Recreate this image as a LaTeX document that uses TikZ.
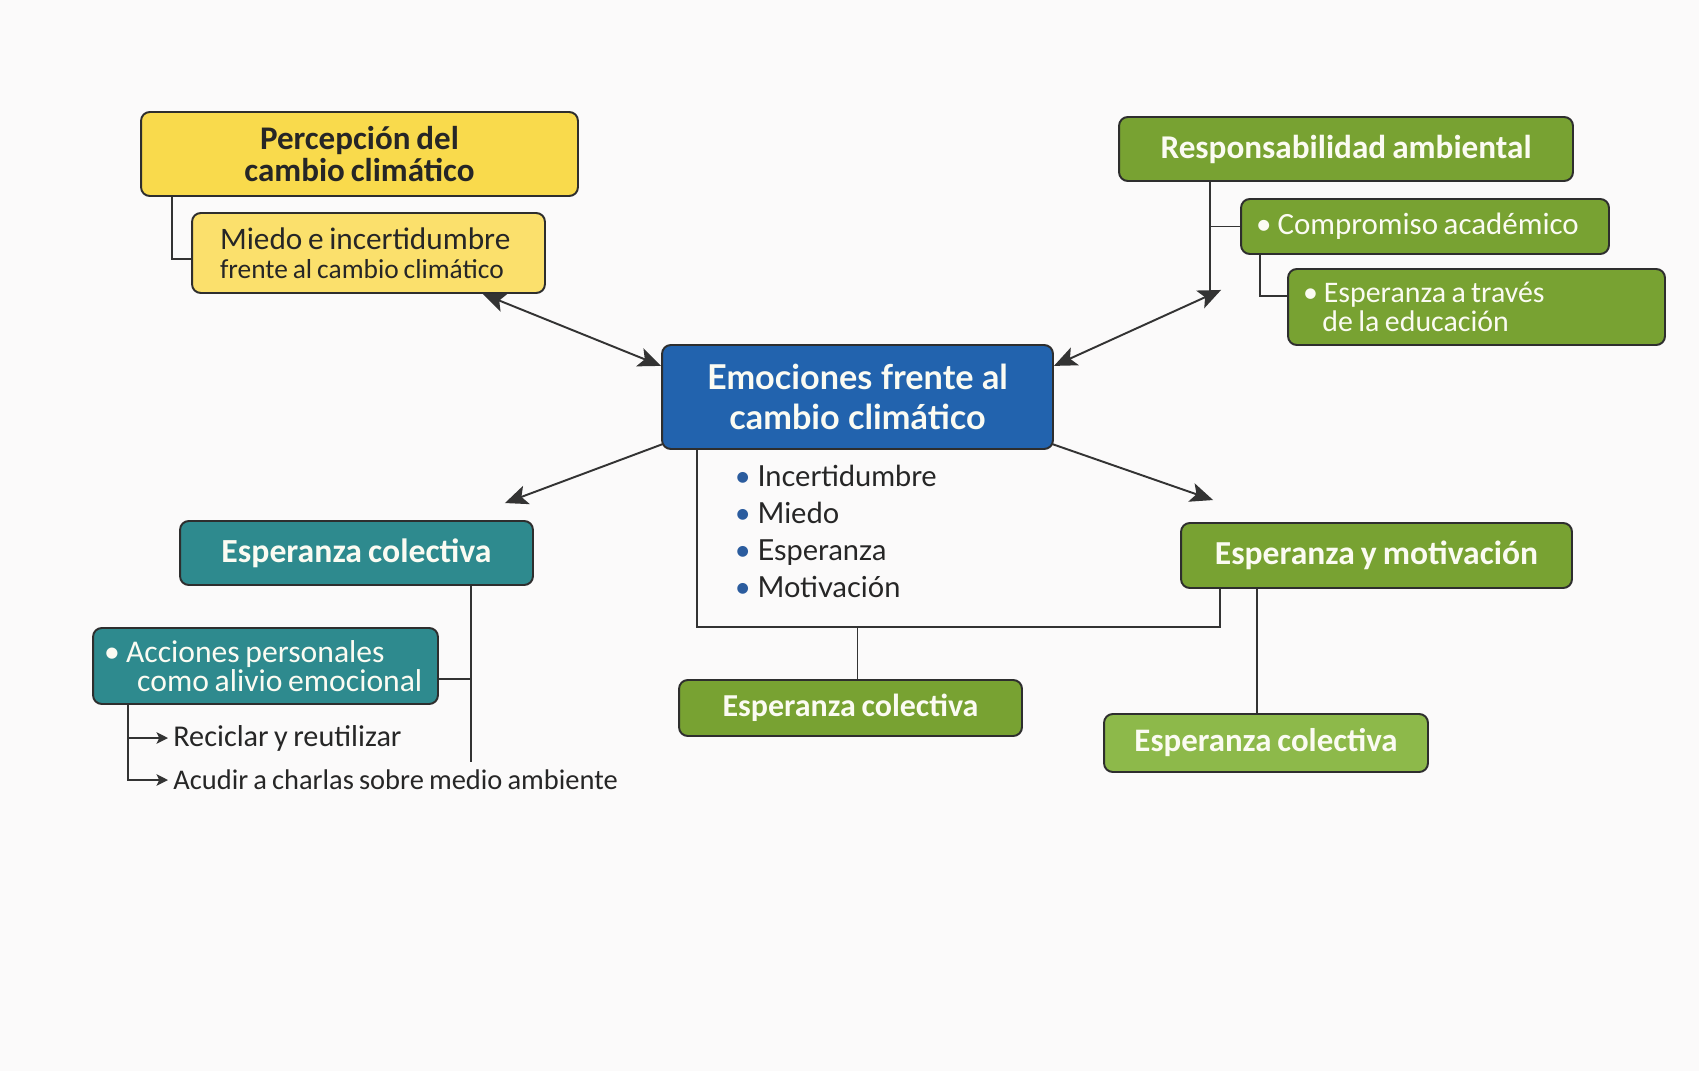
\documentclass[tikz,border=0pt]{standalone}
\usepackage{fontspec}
\setmainfont{Carlito}[WordSpace=0.8]
\newfontfamily\latofont{Lato}
\usepackage{tikz}
\usetikzlibrary{arrows.meta, calc}

\definecolor{fondo}{HTML}{FBFAFA}
\definecolor{borde}{HTML}{2E2E2E}
\definecolor{trazo}{HTML}{333333}
\definecolor{oscuro}{HTML}{262626}
\definecolor{blanco}{HTML}{FBFBF2}
\definecolor{amarillo}{HTML}{F9DA4C}
\definecolor{amarillo2}{HTML}{FBE06C}
\definecolor{azul}{HTML}{2263AE}
\definecolor{azulpunto}{HTML}{2B5C9E}
\definecolor{verde}{HTML}{78A232}
\definecolor{verdeclaro}{HTML}{8DB94A}
\definecolor{turquesa}{HTML}{2E8A8E}

\newcommand{\punto}{\textcolor{azulpunto}{\textbullet}\hspace{0.22em}}
\newcommand{\vineta}{\textbullet\hspace{0.2em}}

\begin{document}
\begin{tikzpicture}[x=0.02cm, y=-0.02cm]
        % Fondo.
        \fill[fondo] (0,0) rectangle (1699,1071);

        % Estilos.
        \tikzstyle{caja} = [draw=borde, line width=1.1pt, rounded corners=5pt, inner sep=0pt, text=blanco]
        \tikzstyle{izq} = [align=flush left]
        \tikzstyle{linea} = [draw=trazo, line width=1.1pt]
        \tikzstyle{flecha} = [linea, -{Stealth[length=13pt, width=11pt, inset=3pt]}]
        \tikzstyle{dobleflecha} = [linea, {Stealth[length=13pt, width=11pt, inset=3pt]}-{Stealth[length=13pt, width=11pt, inset=3pt]}]
        \tikzstyle{flechita} = [linea, -{Stealth[length=6.5pt, width=6.5pt, inset=1.5pt]}]

        % Cajas.
        \node[caja, fill=amarillo, text=oscuro, minimum width=8.74cm, minimum height=1.68cm, align=center,
              font=\fontsize{18.8}{18.4}\selectfont\bfseries] (percep) at (359.5,154) {Percepción del\\cambio climático};
        \node[caja, izq, fill=amarillo2, text=oscuro, minimum height=1.60cm, text width=5.94cm, inner xsep=0.56cm,
              font=\fontsize{17.8}{16.5}\selectfont] (miedo) at (368.5,253)
              {\mbox{Miedo e incertidumbre}\\\mbox{\fontsize{15.6}{16.5}\selectfont frente al cambio climático}};
        \node[caja, fill=azul, minimum width=7.82cm, minimum height=2.08cm, align=center,
              font=\fontsize{19.5}{22.7}\latofont\bfseries] (emo) at (857.5,397) {Emociones frente al\\cambio climático};
        \node[anchor=north west, align=left, inner sep=0pt, text=oscuro,
              font=\fontsize{16.5}{21}\latofont] (lista) at (734,465)
              {\punto Incertidumbre\\\punto Miedo\\\punto Esperanza\\\punto Motivación};

        \node[caja, fill=verde, minimum width=9.08cm, minimum height=1.28cm,
              font=\fontsize{18.9}{20}\selectfont\bfseries] (resp) at (1346,149) {Responsabilidad ambiental};
        \node[caja, izq, fill=verde, minimum height=1.10cm, text width=6.76cm, inner xsep=0.3cm,
              font=\fontsize{17.6}{20}\selectfont] (comp) at (1425,226.5) {\mbox{\vineta Compromiso académico}};
        \node[caja, izq, fill=verde, minimum height=1.52cm, text width=6.94cm, inner xsep=0.3cm,
              font=\fontsize{17}{16.5}\selectfont] (educ) at (1476.5,307)
              {\mbox{\vineta Esperanza a través}\\\mbox{\hspace*{0.65em}de la educación}};

        \node[caja, fill=turquesa, minimum width=7.06cm, minimum height=1.28cm,
              font=\fontsize{19.2}{20}\selectfont\bfseries] (colect) at (356.5,553) {Esperanza colectiva};
        \node[caja, izq, fill=turquesa, minimum height=1.52cm, text width=6.46cm, inner xsep=0.22cm,
              font=\fontsize{18}{16.5}\selectfont] (acc) at (265.5,666)
              {\mbox{\vineta Acciones personales}\\\mbox{\hspace*{1.05em}como alivio emocional}};
        \node[anchor=west, inner xsep=0.1cm, text=oscuro, font=\fontsize{17.2}{17}\selectfont] (reci) at (168,738) {Reciclar y reutilizar};
        \node[anchor=west, inner xsep=0.1cm, text=oscuro, font=\fontsize{16.2}{17}\selectfont] (acud) at (168,780) {Acudir a charlas sobre medio ambiente};

        \node[caja, fill=verde, minimum width=7.82cm, minimum height=1.30cm,
              font=\fontsize{19.1}{20}\selectfont\bfseries] (motiv) at (1376.5,555.5) {Esperanza y motivación};
        \node[caja, fill=verde, minimum width=6.86cm, minimum height=1.12cm,
              font=\fontsize{18.2}{20}\selectfont\bfseries] (colmid) at (850.5,708) {Esperanza colectiva};
        \node[caja, fill=verdeclaro, minimum width=6.48cm, minimum height=1.16cm,
              font=\fontsize{18.7}{20}\selectfont\bfseries] (colder) at (1266,743) {Esperanza colectiva};

        % Conectores.
        \draw[linea] ($(percep.south west)+(32,0)$) |- ($(miedo.west)+(0,6)$);

        \coordinate (nudo) at ($(resp.south west)+(92,116)$);
        \draw[linea] (resp.south west -| nudo) -- (nudo);
        \draw[linea] (nudo |- comp.west) -- (comp.west);
        \draw[linea] ($(comp.south west)+(20,0)$) |- ($(educ.west)+(0,-11)$);

        \coordinate (bus) at ($(colmid.north)+(7,-52)$);
        \draw[linea] ($(emo.south west)+(36,0)$) |- (bus) -| ($(motiv.south west)+(40,0)$);
        \draw[linea] (bus) -- (bus |- colmid.north);
        \coordinate (bajada) at ($(motiv.south west)+(77,0)$);
        \draw[linea] (bajada) -- (bajada |- colder.north);

        \coordinate (tronco) at ($(colect.south east)+(-63,0)$);
        \coordinate (fintronco) at ($(tronco)+(0,176)$);
        \coordinate (ramal) at ($(acc.east)+(0,13)$);
        \draw[linea] (tronco) -- (fintronco);
        \draw[linea] (ramal) -- (ramal -| tronco);

        \coordinate (eje) at ($(acc.south west)+(36,0)$);
        \draw[flechita] (eje) |- (reci.west);
        \draw[flechita] (eje) |- (acud.west);

        % Flechas del nodo central.
        \draw[dobleflecha] ($(miedo.south east)+(-63,0)$) -- (emo.171);
        \draw[dobleflecha] (emo.9) -- ($(nudo)+(11,-8)$);
        \draw[flecha] ($(emo.south west)+(2,-6)$) -- ($(colect.north east)+(-29,-17)$);
        \draw[flecha] ($(emo.south east)+(-2,-6)$) -- ($(motiv.north west)+(33,-22)$);
\end{tikzpicture}
\end{document}
